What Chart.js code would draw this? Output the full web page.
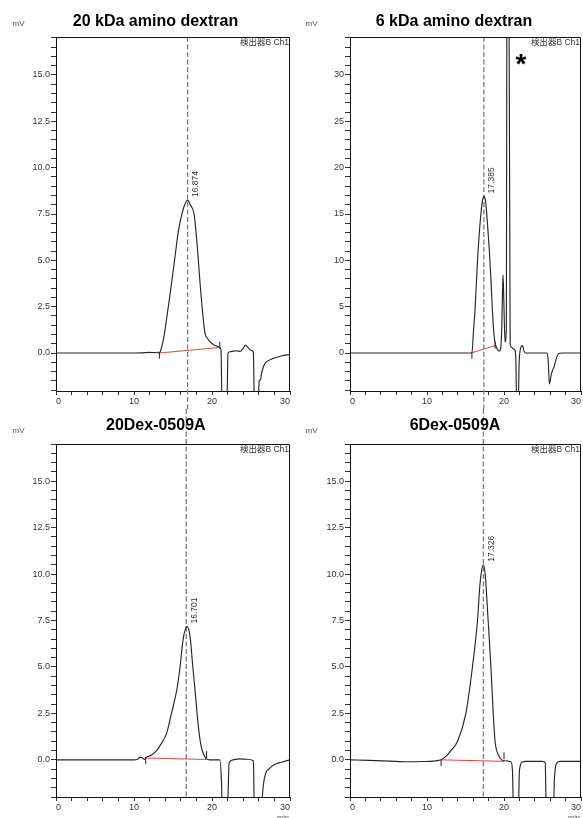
<!DOCTYPE html>
<html>
<head>
<meta charset="utf-8">
<title>GPC chromatograms</title>
<script src="https://cdn.jsdelivr.net/npm/chart.js@4.4.1/dist/chart.umd.min.js"></script>
<style>
    html, body { margin: 0; padding: 0; background: #fff; }
    #wrap { position: relative; width: 583px; height: 818px; overflow: hidden; }
    #wrap canvas { position: absolute; }
</style>
</head>
<body>
<div id="wrap">
    <canvas id="chart-20kda" width="291" height="409" style="left:0;top:0"></canvas>
    <canvas id="chart-6kda" width="292" height="409" style="left:291px;top:0"></canvas>
    <canvas id="chart-20dex" width="291" height="409" style="left:0;top:409px"></canvas>
    <canvas id="chart-6dex" width="292" height="409" style="left:291px;top:409px"></canvas>
</div>
<script>
// Retention time (min) / detector signal (mV)
var time20kDa = [0, 3, 6, 9, 11, 12, 12.6, 13.0, 13.25, 13.5, 13.8, 14.2, 14.6, 15.2, 15.7, 16.2, 16.6, 16.9, 17.2, 17.7, 18.0, 18.25, 18.5, 18.75, 19.1, 19.4, 19.74, 20.2, 20.6, 21.0, 21.15, 21.3, 21.9, 22.05, 22.3, 22.7, 23.2, 23.6, 24.0, 24.3, 24.6, 25.0, 25.3, 25.45, 25.9, 26.05, 26.2, 26.4, 26.8, 27.6, 28.9, 30];
var signal20kDa = [0, 0, 0, 0, 0.01, 0.03, 0.02, 0.04, 0.0, 0.25, 0.8, 1.9, 3.1, 5.0, 6.6, 7.6, 8.1, 8.25, 8.0, 7.5, 6.3, 5.0, 3.6, 2.4, 1.06, 0.8, 0.61, 0.45, 0.38, 0.3, 0.2, -3, -3, 0.0, 0.07, 0.1, 0.12, 0.08, 0.25, 0.43, 0.3, 0.15, 0.05, -3, -3, -1.5, -1.45, -1.0, -0.56, -0.34, -0.16, -0.07];

var time6kDa = [0, 5, 10, 14, 15.5, 15.83, 16.05, 16.26, 16.56, 16.8, 17.0, 17.2, 17.4, 17.6, 17.85, 18.1, 18.3, 18.5, 18.7, 18.9, 19.1, 19.35, 19.55, 19.7, 19.8, 19.88, 19.98, 20.13, 20.3, 20.42, 20.56, 20.8, 21.0, 21.2, 21.4, 21.55, 21.65, 21.85, 21.95, 22.1, 22.4, 22.6, 22.8, 25.0, 25.6, 25.75, 25.9, 26.1, 26.3, 26.5, 26.8, 27.1, 27.5, 30];
var signal6kDa = [0, 0, 0, 0, 0, 0.03, 2.5, 5.0, 10.0, 13.0, 15.0, 16.4, 16.9, 16.4, 14.0, 11.0, 8.0, 4.5, 2.0, 0.9, 0.45, 0.2, 0.4, 2.5, 6.5, 8.4, 5.5, 1.2, 2.5, 60, 60, 1.0, 0.6, 0.45, 0.35, -1, -6, -6, -1.5, 0.3, 0.8, 0.2, 0.0, 0.0, 0.0, -1.0, -3.35, -2.5, -1.85, -1.5, -0.6, -0.05, 0, 0];

var time20Dex = [0, 4, 8, 10, 10.5, 10.8, 11.1, 11.35, 11.5, 12.2, 12.9, 13.3, 14.2, 14.8, 15.5, 15.9, 16.3, 16.6, 16.78, 17.2, 17.5, 17.9, 18.25, 18.6, 19.0, 19.3, 19.7, 21.0, 21.2, 21.35, 21.95, 22.2, 22.7, 23.5, 24.5, 25.3, 25.45, 26.3, 26.45, 26.6, 26.9, 27.3, 27.7, 28.3, 28.9, 30];
var signal20Dex = [0, 0, 0, 0.0, 0.05, 0.15, 0.1, 0.02, 0.1, 0.25, 0.5, 0.74, 1.45, 2.5, 3.8, 5.0, 6.5, 7.05, 7.18, 6.6, 5.2, 3.4, 1.8, 0.74, 0.23, 0.05, 0.0, 0.0, -1, -3, -3, -0.16, 0.0, 0.05, 0.03, -0.05, -3, -3, -2.0, -1.3, -0.7, -0.5, -0.34, -0.2, -0.13, 0.0];

var time6Dex = [0, 2.5, 5.2, 7.3, 9.5, 10.8, 11.5, 11.83, 12.5, 13.1, 13.97, 15.05, 15.9, 16.56, 16.85, 17.1, 17.33, 17.55, 17.75, 17.94, 18.3, 18.6, 18.84, 19.35, 19.7, 20.0, 20.9, 21.1, 21.25, 21.85, 22.0, 22.37, 22.8, 25.0, 25.35, 25.5, 26.4, 26.55, 26.88, 27.3, 30];
var signal6Dex = [0, -0.03, -0.07, -0.1, -0.09, -0.07, -0.03, 0.0, 0.2, 0.5, 1.0, 2.5, 5.0, 7.5, 9.3, 10.2, 10.5, 10.0, 8.8, 7.5, 5.0, 2.5, 1.0, 0.2, 0.0, -0.05, -0.1, -0.6, -3, -3, -0.6, -0.12, -0.08, -0.08, -0.15, -3, -3, -1.0, -0.16, -0.08, -0.08];

// Integration baselines (red) and their start / end marks
var baseTime20kDa = [13.25, 21.0];
var baseSignal20kDa = [0.0, 0.3];
var markSignal20kDa = [-0.12, 0.42];
var baseTime6kDa = [15.83, 18.84];
var baseSignal6kDa = [0.03, 0.8];
var markSignal6kDa = [-0.25, 0.85];
var baseTime20Dex = [11.5, 19.3];
var baseSignal20Dex = [0.1, 0.02];
var markSignal20Dex = [-0.03, 0.28];
var baseTime6Dex = [11.83, 20.0];
var baseSignal6Dex = [0.0, -0.08];
var markSignal6Dex = [-0.15, 0.22];

var titles = ['20 kDa amino dextran', '6 kDa amino dextran', '20Dex-0509A', '6Dex-0509A'];
var retentionTimes = [16.874, 17.385, 16.701, 17.326];
var timeTickLabels = [0, 10, 20, 30];
var signalTickLabels = [0, 2.5, 5, 7.5, 10, 12.5, 15];
var signalTickLabels6kDa = [0, 5, 10, 15, 20, 25, 30];
var detectorLabel = '検出器B Ch1';
var starPosition = [22.2, 31.9];

var FONT = '"Liberation Sans", Arial, "Noto Sans CJK JP", sans-serif';

Chart.defaults.font.family = FONT;

/**
 * Frame, retention line, labels and titles around each chromatogram
 */
var panelDecor = {
    id: 'panelDecor',
    beforeDatasetsDraw: function(chart, args, opts) {
        var ctx = chart.ctx;
        var a = chart.chartArea;
        var rx = chart.scales.x.getPixelForValue(opts.rt);

        ctx.save();
        ctx.strokeStyle = '#7d7d7d';
        ctx.lineWidth = 1.3;
        ctx.setLineDash([5, 2.5]);
        ctx.beginPath();
        ctx.moveTo(rx, opts.dashFromTop ? 0 : a.top);
        ctx.lineTo(rx, opts.dashFromTop ? a.bottom : chart.height);
        ctx.stroke();
        ctx.restore();
    },
    afterDraw: function(chart, args, opts) {
        var ctx = chart.ctx;
        var a = chart.chartArea;
        var xs = chart.scales.x;
        var ys = chart.scales.y;

        ctx.save();

        // top and right edges of the frame
        ctx.strokeStyle = '#111';
        ctx.lineWidth = 1;
        ctx.beginPath();
        ctx.moveTo(a.left, Math.round(a.top) + 0.5);
        ctx.lineTo(Math.round(a.right) - 0.5, Math.round(a.top) + 0.5);
        ctx.lineTo(Math.round(a.right) - 0.5, a.bottom);
        ctx.stroke();

        ctx.fillStyle = '#000';
        ctx.font = 'bold 16px ' + FONT;
        ctx.textAlign = 'center';
        ctx.textBaseline = 'alphabetic';
        ctx.fillText(opts.title, opts.titleX, opts.titleY);

        ctx.fillStyle = '#555';
        ctx.font = '8px ' + FONT;
        ctx.fillText('mV', opts.unitX, a.top - 11);
        ctx.font = '7.5px ' + FONT;
        ctx.fillText('min', a.right - 7, a.bottom + 23);

        ctx.fillStyle = '#333';
        ctx.font = '8.5px ' + FONT;
        ctx.textAlign = 'right';
        ctx.fillText(opts.detector, a.right - 1, a.top + 8);

        // retention time written upward above the peak
        ctx.save();
        ctx.translate(xs.getPixelForValue(opts.rt) + 8, ys.getPixelForValue(opts.peak) - 3);
        ctx.rotate(-Math.PI / 2);
        ctx.textAlign = 'left';
        ctx.textBaseline = 'middle';
        ctx.fillText(opts.rt.toFixed(3), 0, 0);
        ctx.restore();

        if (opts.star) {
            ctx.fillStyle = '#000';
            ctx.font = 'bold 28px ' + FONT;
            ctx.textAlign = 'center';
            ctx.fillText('*', xs.getPixelForValue(opts.starX), ys.getPixelForValue(opts.starY) + 16);
        }

        ctx.restore();
    }
};

Chart.register(panelDecor);

/**
 * Pair two arrays into {x, y} points
 */
function toPoints(xs, ys) {
    return xs.map(function(x, i) {
        return { x: x, y: ys[i] };
    });
}

/**
 * Tallest point of a trace near the retention time
 */
function peakNear(time, signal, rt) {
    var best = -Infinity;
    for (var i = 0; i < time.length; i++) {
        if (Math.abs(time[i] - rt) <= 0.6 && signal[i] > best) {
            best = signal[i];
        }
    }
    return best;
}

function isLabel(list, v) {
    return list.some(function(l) { return Math.abs(l - v) < 1e-6; });
}

/**
 * Build one chromatogram panel
 */
function makeChart(p) {
    var ctx = document.getElementById(p.id).getContext('2d');
    var axisGrid = {
        drawOnChartArea: false,
        drawTicks: true,
        color: '#333',
        lineWidth: 1
    };

    return new Chart(ctx, {
        type: 'line',
        data: {
            datasets: [
                {
                    data: toPoints(p.time, p.signal),
                    borderColor: '#262626',
                    borderWidth: 1.15,
                    pointRadius: 0,
                    cubicInterpolationMode: 'monotone',
                    fill: false,
                    order: 3
                },
                {
                    data: toPoints(p.baseTime, p.baseSignal),
                    borderColor: '#e5433b',
                    borderWidth: 1,
                    pointRadius: 0,
                    fill: false,
                    order: 2
                },
                {
                    data: toPoints(p.baseTime, p.markSignal),
                    showLine: false,
                    pointStyle: 'line',
                    rotation: 90,
                    pointRadius: 3.5,
                    borderColor: '#222',
                    borderWidth: 1,
                    order: 1
                }
            ]
        },
        options: {
            responsive: false,
            animation: false,
            events: [],
            layout: {
                autoPadding: false,
                padding: { top: p.top, right: p.padRight, bottom: 0, left: 0 }
            },
            plugins: {
                legend: { display: false },
                tooltip: { enabled: false },
                panelDecor: {
                    title: p.title,
                    titleX: p.titleX,
                    titleY: p.titleY,
                    unitX: p.unitX,
                    detector: detectorLabel,
                    rt: p.rt,
                    peak: peakNear(p.time, p.signal, p.rt),
                    dashFromTop: p.dashFromTop,
                    star: !!p.star,
                    starX: starPosition[0],
                    starY: starPosition[1]
                }
            },
            scales: {
                x: {
                    type: 'linear',
                    min: 0,
                    max: 30,
                    afterFit: function(scale) {
                        scale.height = p.xAxisHeight;
                        scale.paddingLeft = 0;
                        scale.paddingRight = 0;
                    },
                    grid: Object.assign({ tickLength: 4 }, axisGrid),
                    border: { display: true, color: '#111', width: 1 },
                    ticks: {
                        stepSize: 2,
                        autoSkip: false,
                        maxRotation: 0,
                        align: 'inner',
                        padding: 1,
                        color: '#333',
                        font: { size: 9 },
                        callback: function(v) {
                            return isLabel(timeTickLabels, v) ? String(v) : '';
                        }
                    }
                },
                y: {
                    min: p.yMin,
                    max: p.yMax,
                    afterFit: function(scale) {
                        scale.width = p.yAxisWidth;
                        scale.paddingTop = 0;
                        scale.paddingBottom = 0;
                    },
                    grid: Object.assign({ tickLength: 5 }, axisGrid),
                    border: { display: true, color: '#111', width: 1 },
                    ticks: {
                        stepSize: p.yStep,
                        includeBounds: false,
                        autoSkip: false,
                        padding: 1,
                        color: '#333',
                        font: { size: 9 },
                        callback: function(v) {
                            return isLabel(p.yLabels, v) ? v.toFixed(p.yDecimals) : '';
                        }
                    }
                }
            }
        }
    });
}

makeChart({
    id: 'chart-20kda', time: time20kDa, signal: signal20kDa,
    baseTime: baseTime20kDa, baseSignal: baseSignal20kDa, markSignal: markSignal20kDa,
    title: titles[0], rt: retentionTimes[0],
    titleX: 155.5, titleY: 26, unitX: 18.5, dashFromTop: false,
    top: 37, padRight: 1, xAxisHeight: 18, yAxisWidth: 56,
    yMin: -2.05, yMax: 17.05, yStep: 0.5, yLabels: signalTickLabels, yDecimals: 1
});

makeChart({
    id: 'chart-6kda', time: time6kDa, signal: signal6kDa,
    baseTime: baseTime6kDa, baseSignal: baseSignal6kDa, markSignal: markSignal6kDa,
    title: titles[1], rt: retentionTimes[1],
    titleX: 163, titleY: 26, unitX: 20.5, dashFromTop: false, star: true,
    top: 37, padRight: 2, xAxisHeight: 18, yAxisWidth: 59,
    yMin: -4.1, yMax: 34.1, yStep: 1, yLabels: signalTickLabels6kDa, yDecimals: 0
});

makeChart({
    id: 'chart-20dex', time: time20Dex, signal: signal20Dex,
    baseTime: baseTime20Dex, baseSignal: baseSignal20Dex, markSignal: markSignal20Dex,
    title: titles[2], rt: retentionTimes[2],
    titleX: 155.8, titleY: 21, unitX: 18.5, dashFromTop: true,
    top: 35, padRight: 1, xAxisHeight: 21, yAxisWidth: 56,
    yMin: -2, yMax: 17, yStep: 0.5, yLabels: signalTickLabels, yDecimals: 1
});

makeChart({
    id: 'chart-6dex', time: time6Dex, signal: signal6Dex,
    baseTime: baseTime6Dex, baseSignal: baseSignal6Dex, markSignal: markSignal6Dex,
    title: titles[3], rt: retentionTimes[3],
    titleX: 164, titleY: 21, unitX: 20.5, dashFromTop: true,
    top: 35, padRight: 2, xAxisHeight: 21, yAxisWidth: 59,
    yMin: -2, yMax: 17, yStep: 0.5, yLabels: signalTickLabels, yDecimals: 1
});
</script>
</body>
</html>
